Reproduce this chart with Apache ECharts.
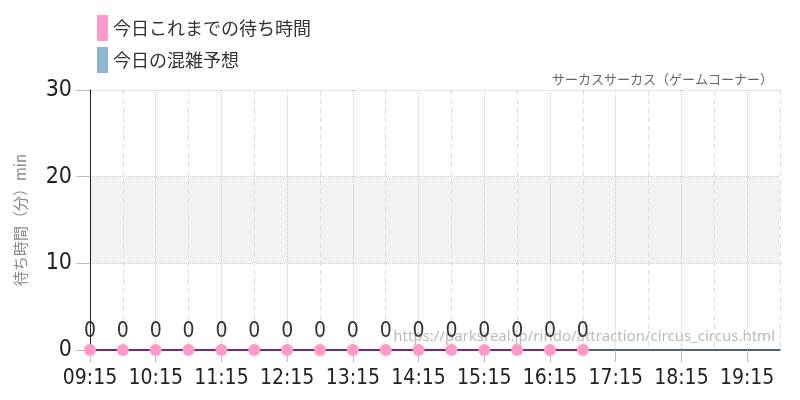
<!DOCTYPE html>
<html><head><meta charset="utf-8">
<script src="https://cdn.jsdelivr.net/npm/echarts@6/dist/echarts.min.js"></script>
<style>html,body{margin:0;padding:0;background:#fff}#c{width:800px;height:400px}</style>
</head><body><div id="c"></div>
<script>
const categories = ["09:15","09:45","10:15","10:45","11:15","11:45","12:15","12:45","13:15","13:45","14:15","14:45","15:15","15:45","16:15","16:45","17:15","17:45","18:15","18:45","19:15","19:45"];
const waitTimes = [0,0,0,0,0,0,0,0,0,0,0,0,0,0,0,0];
const forecast = [];
const yTicks = [0,10,20,30];
const titleText = "サーカスサーカス（ゲームコーナー）";
const urlText = "https://parksreal.jp/rindo/attraction/circus_circus.html";

const numFont = "'DejaVu Sans Condensed','DejaVu Sans',sans-serif";
const numStyle = 'condensed';
const jpFont = "'Noto Sans CJK JP',sans-serif";
const chart = echarts.init(document.getElementById('c'));
chart.setOption({
  animation:false,
  textStyle:{fontFamily:jpFont},
  title:{text:titleText,right:22,top:68,textStyle:{fontSize:13,fontWeight:'normal',color:'#666',fontFamily:jpFont}},
  legend:{orient:'vertical',left:92,top:10,icon:'rect',itemWidth:11,itemHeight:26,itemGap:6,
    textStyle:{fontSize:18,color:'#333',fontFamily:jpFont},
    data:['今日これまでの待ち時間','今日の混雑予想']},
  grid:{left:90,right:20,top:90,bottom:50,containLabel:false},
  graphic:[{type:'text',right:25,top:329,z:0,style:{text:urlText,fontSize:15,fill:'#bbb',fontFamily:"'Noto Sans',sans-serif"}}],
  xAxis:[{type:'category',data:categories,boundaryGap:false,
    axisLine:{lineStyle:{color:'#223344',width:1.5}},
    axisTick:{interval:1,length:12,lineStyle:{color:'#bbb'}},
    axisLabel:{interval:1,fontSize:21,color:'#222',fontFamily:numFont,fontStyle:numStyle,margin:18},
    splitLine:{show:true,interval:function(i){return i%2===0;},lineStyle:{color:'#ccc',type:'dotted'}}},
   {type:'category',data:categories,boundaryGap:false,position:'bottom',
    axisLine:{show:false},axisTick:{show:false},axisLabel:{show:false},
    splitLine:{show:true,interval:function(i){return i%2===1;},lineStyle:{color:'#ddd',type:[5,4]}}}],
  yAxis:{type:'value',min:0,max:30,interval:10,name:'待ち時間（分）min',nameLocation:'middle',nameGap:62,
    nameTextStyle:{fontSize:15,color:'#888',fontFamily:jpFont},
    axisLine:{show:true,lineStyle:{color:'#222'}},
    axisTick:{show:true,length:14,lineStyle:{color:'#bbb'}},
    axisLabel:{fontSize:23,color:'#222',fontFamily:numFont,fontStyle:numStyle,margin:18,
      formatter:function(v){return yTicks.indexOf(v)>=0?String(v):'';}},
    splitLine:{lineStyle:{color:'#ccc',type:'dotted'}},
    splitArea:{show:true,areaStyle:{color:['rgba(255,255,255,0)','#f2f2f2']}}},
  series:[
    {name:'今日これまでの待ち時間',type:'line',data:waitTimes,symbol:'circle',symbolSize:12,z:5,
      itemStyle:{color:'#ff99cc'},lineStyle:{color:'#7a2a6a',width:2},
      label:{show:true,position:'top',distance:2,fontSize:21,color:'#333',fontFamily:numFont,fontStyle:numStyle}},
    {name:'今日の混雑予想',type:'bar',data:forecast,itemStyle:{color:'#8fb4d0'}}
  ]
});
</script></body></html>
